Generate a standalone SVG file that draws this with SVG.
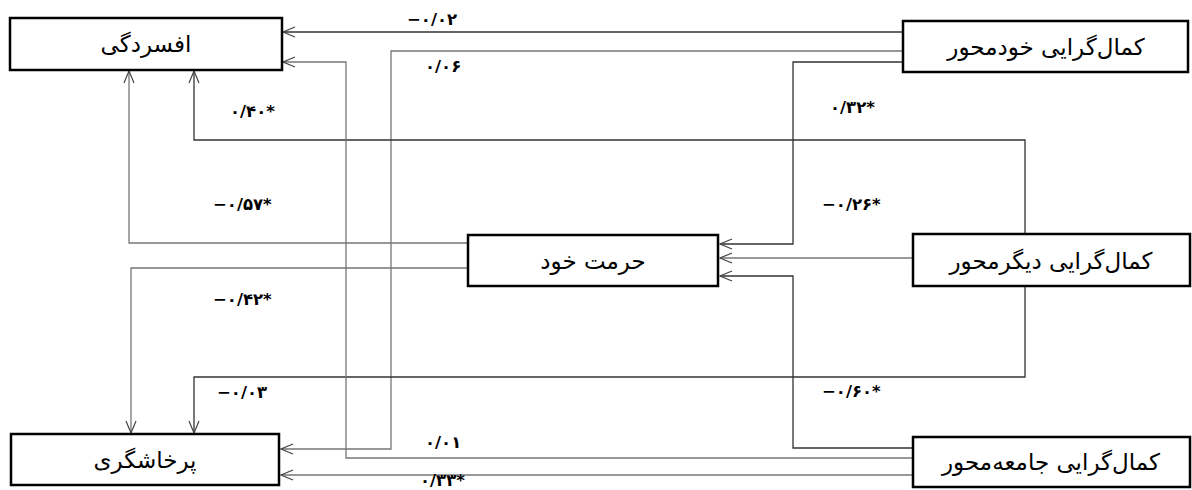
<svg xmlns="http://www.w3.org/2000/svg" width="1192" height="490" viewBox="0 0 1192 490">
<style>
.box{fill:#fff;stroke:#000;stroke-width:2.5}
.nt{font-family:"DejaVu Sans",sans-serif;font-size:23px;fill:#000;text-anchor:middle;direction:rtl}
.lb{font-family:"DejaVu Sans",sans-serif;font-size:16.5px;font-weight:bold;fill:#000;direction:ltr;unicode-bidi:embed}
.dk{fill:none;stroke:#333;stroke-width:1.3}
.gy{fill:none;stroke:#777;stroke-width:1.3}
</style>
<defs>
<marker id="ar" viewBox="0 0 14 12" refX="13" refY="6" markerWidth="14" markerHeight="12" markerUnits="userSpaceOnUse" orient="auto">
<path d="M1,1 L13,6 L1,11" fill="none" stroke="#444" stroke-width="1.2"/>
</marker>
</defs>
<rect width="1192" height="490" fill="#fff"/>
<g id="connectors">
<path class="dk" d="M903,32 H283" marker-end="url(#ar)"/>
<path class="gy" d="M903,51 H391 V449 H281" marker-end="url(#ar)"/>
<path class="dk" d="M903,62 H793 V244 H720" marker-end="url(#ar)"/>
<path class="dk" d="M1025,234 V140 H194 V71" marker-end="url(#ar)"/>
<path class="dk" d="M1025,286 V377 H194 V433" marker-end="url(#ar)"/>
<path class="gy" d="M913,258 H720" marker-end="url(#ar)"/>
<path class="dk" d="M913,448 H793 V276 H720" marker-end="url(#ar)"/>
<path class="gy" d="M913,458 H346 V62 H283" marker-end="url(#ar)"/>
<path class="gy" d="M913,475 H281" marker-end="url(#ar)"/>
<path class="gy" d="M468,243 H129 V71" marker-end="url(#ar)"/>
<path class="gy" d="M468,268 H131 V433" marker-end="url(#ar)"/>
</g>
<g id="labels">
<text class="lb" x="407" y="25">−۰/۰۲</text>
<text class="lb" x="425" y="72">۰/۰۶</text>
<text class="lb" x="230" y="117">۰/۴۰*</text>
<text class="lb" x="830" y="113">۰/۳۲*</text>
<text class="lb" x="213" y="210">−۰/۵۷*</text>
<text class="lb" x="822" y="210">−۰/۲۶*</text>
<text class="lb" x="213" y="305">−۰/۴۲*</text>
<text class="lb" x="217" y="398">−۰/۰۳</text>
<text class="lb" x="822" y="397">−۰/۶۰*</text>
<text class="lb" x="425" y="448">۰/۰۱</text>
<text class="lb" x="420" y="486">۰/۳۳*</text>
</g>
<g id="node-depression">
<rect class="box" x="10" y="18" width="272" height="52"/>
<text class="nt" x="146" y="52">افسردگی</text>
</g>
<g id="node-self-oriented">
<rect class="box" x="903" y="21" width="285" height="51"/>
<text class="nt" x="1046" y="55">کمال‌گرایی خودمحور</text>
</g>
<g id="node-self-esteem">
<rect class="box" x="468" y="235" width="250" height="51"/>
<text class="nt" x="593" y="269">حرمت خود</text>
</g>
<g id="node-other-oriented">
<rect class="box" x="913" y="234" width="277" height="52"/>
<text class="nt" x="1051" y="269">کمال‌گرایی دیگرمحور</text>
</g>
<g id="node-aggression">
<rect class="box" x="11" y="434" width="268" height="51"/>
<text class="nt" x="145" y="468">پرخاشگری</text>
</g>
<g id="node-socially-prescribed">
<rect class="box" x="913" y="437" width="277" height="50"/>
<text class="nt" x="1051" y="470">کمال‌گرایی جامعه‌محور</text>
</g>
</svg>
